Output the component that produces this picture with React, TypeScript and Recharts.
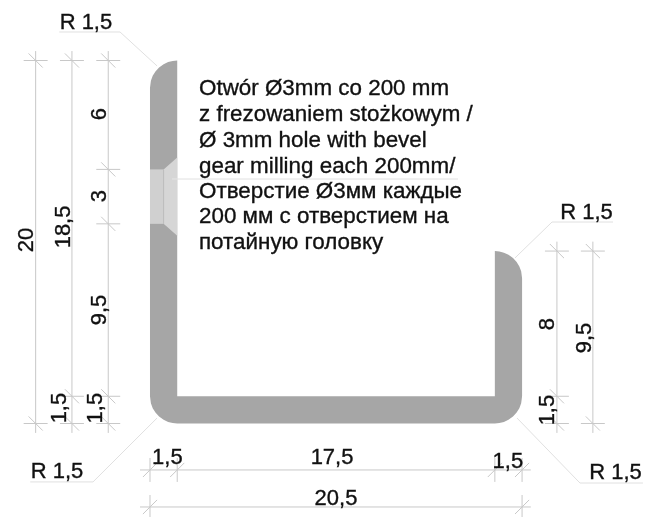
import React from "react";
import { ComposedChart, Area, Scatter, ReferenceLine, XAxis, YAxis } from "recharts";

// all values are in mm, measured from the outer bottom-left corner of the profile
const profile = [
  { x: 0, range: [1.5, 18.5] },
  { x: 0.05, range: [1.116, 18.884] },
  { x: 0.15, range: [0.846, 19.154] },
  { x: 0.3, range: [0.6, 19.4] },
  { x: 0.5, range: [0.382, 19.618] },
  { x: 0.75, range: [0.201, 19.799] },
  { x: 1, range: [0.086, 19.914] },
  { x: 1.25, range: [0.021, 19.979] },
  { x: 1.5, range: [0, 20] },
  { x: 1.5, range: [0, 1.5] },
  { x: 19, range: [0, 1.5] },
  { x: 19, range: [0, 9.5] },
  { x: 19.25, range: [0.021, 9.479] },
  { x: 19.5, range: [0.086, 9.414] },
  { x: 19.75, range: [0.201, 9.299] },
  { x: 20, range: [0.382, 9.118] },
  { x: 20.2, range: [0.6, 8.9] },
  { x: 20.35, range: [0.846, 8.654] },
  { x: 20.45, range: [1.116, 8.384] },
  { x: 20.5, range: [1.5, 8] },
];

const holeBore = [
  { x: 0, range: [11, 14] },
  { x: 0.75, range: [11, 14] },
];

const holeBevel = [
  { x: 0.75, range: [11, 14] },
  { x: 1.5, range: [10.35, 14.65] },
];

const verticalDims = [
  { x: -6.3, ticks: [20, 0] },
  { x: -4.3, ticks: [20, 1.5, 0] },
  { x: -2.3, ticks: [20, 14, 11, 1.5, 0] },
  { x: 22.42, ticks: [9.5, 1.5, 0] },
  { x: 24.4, ticks: [9.5, 0] },
];

const horizontalDims = [
  { y: -2.56, ticks: [0, 1.5, 19, 20.5] },
  { y: -4.6, ticks: [0, 20.5] },
];

const leaders = [
  [[-5.0, 21.57], [-1.65, 21.57], [0.39, 19.7]],
  [[-6.6, -3.22], [-3.14, -3.22], [0.39, 0.3]],
  [[20.11, 9.12], [22.15, 11.1], [25.51, 11.1]],
  [[20.22, 0.3], [23.69, -3.28], [27.16, -3.28]],
  [[1.21, 13.47], [16.97, 13.47]],
];

const flatLabels = [
  { x: -3.53, y: 21.73, text: "R 1,5" },
  { x: -5.12, y: -3.0, text: "R 1,5" },
  { x: 24.05, y: 11.27, text: "R 1,5" },
  { x: 25.65, y: -3.06, text: "R 1,5" },
  { x: 0.96, y: -2.23, text: "1,5" },
  { x: 10.03, y: -2.23, text: "17,5" },
  { x: 19.72, y: -2.45, text: "1,5" },
  { x: 10.25, y: -4.49, text: "20,5" },
];

const turnedLabels = [
  { x: -2.42, y: 17.05, text: "6" },
  { x: -2.42, y: 12.53, text: "3" },
  { x: -2.42, y: 6.25, text: "9,5" },
  { x: -4.38, y: 10.83, text: "18,5" },
  { x: -6.44, y: 10.11, text: "20" },
  { x: -4.63, y: 0.85, text: "1,5" },
  { x: -2.64, y: 0.85, text: "1,5" },
  { x: 22.26, y: 5.48, text: "8" },
  { x: 24.3, y: 4.71, text: "9,5" },
  { x: 22.26, y: 0.74, text: "1,5" },
];

const noteLines = [
  { x: 2.7, y: 18.1, text: "Otwór Ø3mm co 200 mm" },
  { x: 2.7, y: 16.67, text: "z frezowaniem stożkowym /" },
  { x: 2.7, y: 15.24, text: "Ø 3mm hole with bevel" },
  { x: 2.7, y: 13.81, text: "gear milling each 200mm/" },
  { x: 2.7, y: 12.43, text: "Отверстие Ø3мм каждые" },
  { x: 2.7, y: 11.05, text: "200 мм с отверстием на" },
  { x: 2.7, y: 9.61, text: "потайную головку" },
];

const FONT = "'Liberation Sans', Arial, sans-serif";
const INK = "#111";
const DIM = "#c8c8c8";
const LEADER = "#e0e0e0";

const seg = (key: string, x1: number, y1: number, x2: number, y2: number, stroke = DIM) => (
  <ReferenceLine
    key={key}
    segment={[{ x: x1, y: y1 }, { x: x2, y: y2 }]}
    stroke={stroke}
    strokeWidth={1}
    ifOverflow="visible"
  />
);

const flatText = (size: number, anchor: string) => (p: any) => (
  <text x={p.cx} y={p.cy} fontSize={size} fontFamily={FONT} fill={INK} stroke={INK} strokeWidth={0.35} textAnchor={anchor}>
    {p.payload.text}
  </text>
);

const turnedText = (p: any) => (
  <text
    x={p.cx}
    y={p.cy}
    fontSize={22}
    fontFamily={FONT}
    fill={INK}
    stroke={INK}
    strokeWidth={0.35}
    textAnchor="middle"
    transform={`rotate(-90 ${p.cx} ${p.cy})`}
  >
    {p.payload.text}
  </text>
);

export default function App() {
  return (
    <div style={{ position: "absolute", left: 0, top: 0, width: 650, height: 517, filter: "blur(0.4px)" }}>
      <ComposedChart width={650} height={517} margin={{ top: 0, right: 0, bottom: 0, left: 0 }}>
        <XAxis type="number" dataKey="x" domain={[-8.264, 27.548]} hide allowDataOverflow />
        <YAxis type="number" domain={[-5.152, 23.333]} hide allowDataOverflow />

        {verticalDims.flatMap((d, i) => [
          seg(`v${i}`, d.x, d.ticks[0] + 0.52, d.x, -0.52),
          ...d.ticks.flatMap((t, j) => [
            seg(`v${i}h${j}`, d.x - 0.66, t, d.x + 0.66, t),
            seg(`v${i}s${j}`, d.x - 0.39, t + 0.39, d.x + 0.39, t - 0.39),
          ]),
        ])}
        {horizontalDims.flatMap((d, i) => [
          seg(`h${i}`, -0.55, d.y, 20.98, d.y),
          ...d.ticks.flatMap((t, j) => [
            seg(`h${i}v${j}`, t, d.y - 0.66, t, d.y + 0.66),
            seg(`h${i}s${j}`, t - 0.39, d.y - 0.39, t + 0.39, d.y + 0.39),
          ]),
        ])}
        {leaders.flatMap((pts, i) =>
          pts.slice(1).map((pt, j) => seg(`l${i}${j}`, pts[j][0], pts[j][1], pt[0], pt[1], LEADER))
        )}

        <Area
          data={profile}
          dataKey="range"
          type="linear"
          fill="#a6a6a6"
          fillOpacity={1}
          stroke="none"
          dot={false}
          activeDot={false}
          isAnimationActive={false}
        />
        <Area
          data={holeBore}
          dataKey="range"
          type="linear"
          fill="#d0d0d0"
          fillOpacity={1}
          stroke="none"
          dot={false}
          activeDot={false}
          isAnimationActive={false}
        />
        <Area
          data={holeBevel}
          dataKey="range"
          type="linear"
          fill="#d6d6d6"
          fillOpacity={1}
          stroke="none"
          dot={false}
          activeDot={false}
          isAnimationActive={false}
        />
        {seg("holeEdge", 0.75, 11, 0.75, 14, "#bdbdbd")}
        {seg("holeLeader", 1.21, 13.47, 1.5, 13.47, LEADER)}

        <Scatter data={flatLabels} dataKey="y" shape={flatText(22, "middle")} isAnimationActive={false} />
        <Scatter data={turnedLabels} dataKey="y" shape={turnedText} isAnimationActive={false} />
        <Scatter data={noteLines} dataKey="y" shape={flatText(22.4, "start")} isAnimationActive={false} />
      </ComposedChart>
    </div>
  );
}
